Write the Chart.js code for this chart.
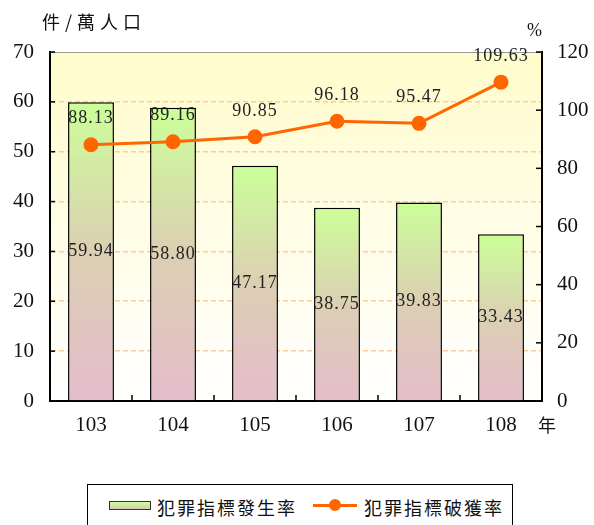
<!DOCTYPE html>
<html>
<head>
<meta charset="utf-8">
<script src="https://cdn.jsdelivr.net/npm/chart.js@4"></script>
<style>
  body { margin: 0; background: #fff; }
  #wrap { position: relative; width: 594px; height: 525px; overflow: hidden; }
  #legend { position: absolute; left: 87px; top: 484px; width: 426px; height: 50px;
    border: 1px solid #000; box-sizing: border-box; font-family: "Noto Sans CJK TC", sans-serif;
    font-size: 18px; color: #111; }
  .item { position: absolute; top: 10px; height: 24px; line-height: 24px; letter-spacing: 2px; }
  .swatch { position: absolute; }
</style>
</head>
<body>
<div id="wrap">
  <canvas id="myChart" width="594" height="470"></canvas>
  <div id="legend">
    <div class="swatch" style="left:21px;top:16px;width:42px;height:9px;border:1px solid #333;box-sizing:border-box;background:linear-gradient(#ccff99,#d8c8b0)"></div>
    <div class="item" style="left:69px">犯罪指標發生率</div>
    <div class="swatch" style="left:225px;top:19px;width:44px;height:3px;background:#ff6600"></div>
    <div class="swatch" style="left:241px;top:14px;width:12px;height:12px;border-radius:6px;background:#ff6600"></div>
    <div class="item" style="left:276px">犯罪指標破獲率</div>
  </div>
</div>
<script>
const years = ['103', '104', '105', '106', '107', '108'];
const crimeRate = [59.94, 58.80, 47.17, 38.75, 39.83, 33.43];
const clearRate = [88.13, 89.16, 90.85, 96.18, 95.47, 109.63];
const leftTicks = [0, 10, 20, 30, 40, 50, 60, 70];
const rightTicks = [0, 20, 40, 60, 80, 100, 120];

const numFont = '"Liberation Serif", serif';
const cjkFont = '"Noto Sans CJK TC", sans-serif';

function barGradient(ctx) {
  const chart = ctx.chart;
  if (!chart.chartArea || !chart.scales.y) return '#ccff99';
  const y = chart.scales.y;
  const top = y.getPixelForValue(ctx.raw);
  const bottom = y.getPixelForValue(0);
  const g = chart.ctx.createLinearGradient(0, top, 0, bottom);
  g.addColorStop(0, '#ccff99');
  g.addColorStop(0.5, '#dccfb3');
  g.addColorStop(1, '#e5bdcb');
  return g;
}

const decoPlugin = {
  id: 'deco',
  beforeDraw(chart) {
    const c = chart.ctx, a = chart.chartArea;
    const g = c.createLinearGradient(0, a.top, 0, a.bottom);
    g.addColorStop(0, '#fffccc');
    g.addColorStop(1, '#ffffff');
    c.save();
    c.fillStyle = g;
    c.fillRect(a.left, a.top, a.right - a.left, a.bottom - a.top);
    c.restore();
  },
  afterDraw(chart) {
    const c = chart.ctx, a = chart.chartArea;
    c.save();
    // top border
    c.strokeStyle = '#999';
    c.lineWidth = 1;
    c.beginPath();
    c.moveTo(a.left, a.top + 0.5);
    c.lineTo(a.right, a.top + 0.5);
    c.stroke();
    // inner ticks
    c.strokeStyle = '#000';
    c.lineWidth = 1.5;
    const y = chart.scales.y, y1 = chart.scales.y1;
    leftTicks.forEach(v => {
      const p = y.getPixelForValue(v);
      c.beginPath(); c.moveTo(a.left, p); c.lineTo(a.left + 5, p); c.stroke();
    });
    rightTicks.forEach(v => {
      const p = y1.getPixelForValue(v);
      c.beginPath(); c.moveTo(a.right, p); c.lineTo(a.right - 6, p); c.stroke();
    });
    const step = (a.right - a.left) / years.length;
    for (let i = 1; i < years.length; i++) {
      const px = a.left + step * i;
      c.beginPath(); c.moveTo(px, a.bottom); c.lineTo(px, a.bottom - 6); c.stroke();
    }
    // value labels
    c.fillStyle = '#222';
    c.font = '18px ' + numFont;
    c.letterSpacing = '1px';
    c.textAlign = 'center';
    c.textBaseline = 'middle';
    chart.getDatasetMeta(1).data.forEach((el, i) => {
      c.fillText(crimeRate[i].toFixed(2), el.x, (el.y + el.base) / 2);
    });
    chart.getDatasetMeta(0).data.forEach((el, i) => {
      c.fillText(clearRate[i].toFixed(2), el.x, el.y - 26);
    });
    // axis titles
    c.font = '18px ' + cjkFont;
    c.textAlign = 'left';
    c.fillStyle = '#111';
    c.letterSpacing = '5px';
    c.fillText('件/萬人口', 42, 22);
    c.letterSpacing = '0px';
    c.fillText('年', 538, 425);
    c.font = '18px ' + numFont;
    c.fillText('%', 527, 31);
    c.restore();
  }
};

const data = {
  labels: years,
  datasets: [
    {
      type: 'line',
      label: '犯罪指標破獲率',
      data: clearRate,
      yAxisID: 'y1',
      borderColor: '#ff6600',
      backgroundColor: '#ff6600',
      borderWidth: 3,
      pointRadius: 6,
      pointHoverRadius: 6,
      tension: 0,
      order: 0
    },
    {
      type: 'bar',
      label: '犯罪指標發生率',
      data: crimeRate,
      yAxisID: 'y',
      backgroundColor: barGradient,
      borderColor: '#000',
      borderWidth: 1.5,
      barPercentage: 0.56,
      categoryPercentage: 1,
      order: 1
    }
  ]
};

const config = {
  data: data,
  options: {
    responsive: false,
    animation: false,
    layout: { padding: { top: 52 } },
    plugins: { legend: { display: false }, tooltip: { enabled: false } },
    scales: {
      x: {
        grid: { display: false, drawTicks: false },
        border: { color: '#000', width: 2 },
        ticks: { font: { family: numFont, size: 21 }, color: '#111', padding: 12 },
        afterFit(s) { s.height = 69; }
      },
      y: {
        position: 'left',
        min: 0, max: 70,
        afterBuildTicks(s) { s.ticks = leftTicks.map(v => ({ value: v })); },
        grid: {
          drawTicks: false,
          color: c => (c.tick && (c.tick.value === 0 || c.tick.value === 70)) ? 'transparent' : '#ffcc99',
          lineWidth: 1.6
        },
        border: { color: '#000', width: 2, dash: [5, 3] },
        ticks: { font: { family: numFont, size: 21 }, color: '#111', padding: 16 },
        afterFit(s) { s.width = 50; }
      },
      y1: {
        position: 'right',
        min: 0, max: 120,
        afterBuildTicks(s) { s.ticks = rightTicks.map(v => ({ value: v })); },
        grid: { display: false, drawTicks: false },
        border: { color: '#000', width: 2 },
        ticks: { font: { family: numFont, size: 21 }, color: '#111', padding: 15 },
        afterFit(s) { s.width = 52; }
      }
    }
  },
  plugins: [decoPlugin]
};

var myChart = new Chart(document.getElementById('myChart'), config);
</script>
</body>
</html>
